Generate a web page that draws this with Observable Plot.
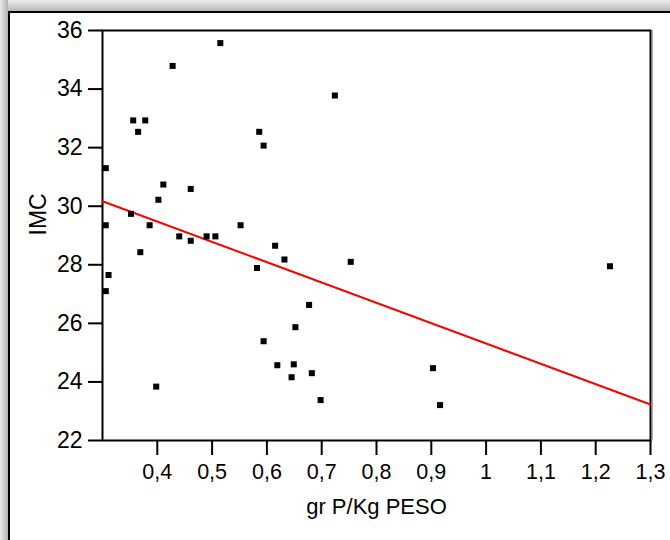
<!DOCTYPE html>
<html>
<head>
<meta charset="utf-8">
<script src="https://cdn.jsdelivr.net/npm/d3@7"></script>
<script src="https://cdn.jsdelivr.net/npm/@observablehq/plot@0.6"></script>
<style>
  html, body { margin: 0; padding: 0; background: #fff; }
  #wrap { position: relative; width: 670px; height: 540px; overflow: hidden; background: #fff; font-family: "Liberation Sans", Arial, sans-serif; }
  #shTop { position: absolute; left: 0; top: 0; width: 670px; height: 11px; background: linear-gradient(to bottom, #ececec, #b8b8b8); }
  #shLeft { position: absolute; left: 0; top: 0; width: 8px; height: 540px; background: linear-gradient(to right, #ececec, #b0b0b0); }
  #bdTop { position: absolute; left: 8px; top: 11px; width: 662px; height: 2px; background: #000; }
  #bdLeft { position: absolute; left: 8px; top: 11px; width: 2px; height: 529px; background: #000; }
  #chart { position: absolute; left: 0; top: 0; }
</style>
</head>
<body>
<div id="wrap">
  <div id="shTop"></div>
  <div id="shLeft"></div>
  <div id="bdTop"></div>
  <div id="bdLeft"></div>
  <div id="chart"></div>
</div>
<script>
// Data
const xValues = [0.515, 0.428, 0.724, 0.356, 0.378, 0.365, 0.586, 0.594, 0.306, 0.411,
                 0.461, 0.402, 0.352, 0.306, 0.386, 0.552, 0.440, 0.490, 0.506, 0.461,
                 0.369, 0.615, 0.632, 0.753, 1.226, 0.582, 0.311, 0.306, 0.677, 0.652,
                 0.594, 0.619, 0.649, 0.903, 0.682, 0.645, 0.398, 0.698, 0.916];
const yValues = [35.57, 34.79, 33.78, 32.93, 32.93, 32.54, 32.54, 32.07, 31.30, 30.74,
                 30.59, 30.22, 29.74, 29.35, 29.35, 29.35, 28.97, 28.97, 28.97, 28.82,
                 28.43, 28.65, 28.18, 28.10, 27.95, 27.89, 27.65, 27.10, 26.63, 25.87,
                 25.39, 24.57, 24.60, 24.47, 24.30, 24.16, 23.84, 23.38, 23.21];
// Fitted line (as drawn in the reference)
const fitX = [0.3, 1.3];
const fitY = [30.17, 23.23];
// Axis ticks
const xTicks = [0.4, 0.5, 0.6, 0.7, 0.8, 0.9, 1, 1.1, 1.2, 1.3];
const yTicks = [22, 24, 26, 28, 30, 32, 34, 36];
const xLabel = "gr P/Kg PESO";
const yLabel = "IMC";

const points = xValues.map((x, i) => ({x, y: yValues[i]}));
const fit = fitX.map((x, i) => ({x, y: fitY[i]}));
const fmt = d => String(d).replace(".", ",");

const chart = Plot.plot({
  width: 670,
  height: 540,
  marginLeft: 102,
  marginRight: 20,
  marginTop: 30,
  marginBottom: 100,
  style: {background: "transparent", fontFamily: "'Liberation Sans', Arial, sans-serif", color: "#000"},
  x: {domain: [0.3, 1.3]},
  y: {domain: [22, 36]},
  marks: [
    Plot.frame({stroke: "#000", strokeWidth: 2}),
    Plot.ruleX([1.3], {y1: 22, y2: 36, dx: 2, stroke: "#aaa", strokeWidth: 1}),
    Plot.axisY(yTicks, {tickSize: 14, tickPadding: 6, strokeWidth: 2, fontSize: 23, tickFormat: fmt, label: null}),
    Plot.axisX(xTicks, {tickSize: 15, tickPadding: 8, strokeWidth: 2, fontSize: 21.5, tickFormat: fmt, label: null}),
    Plot.line(fit, {x: "x", y: "y", stroke: "#ff0000", strokeWidth: 2}),
    Plot.dot(points, {x: "x", y: "y", symbol: "square", r: 3.4, fill: "#000", stroke: "none"}),
    Plot.text([xLabel], {frameAnchor: "bottom", dy: 73, fontSize: 22, fill: "#000"}),
    Plot.text([yLabel], {frameAnchor: "left", dx: -64, rotate: -90, fontSize: 23, fill: "#000"})
  ]
});
document.getElementById("chart").appendChild(chart);
</script>
</body>
</html>
